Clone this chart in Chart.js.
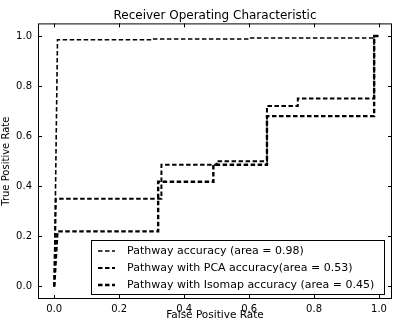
<!DOCTYPE html>
<html>
<head>
<meta charset="utf-8">
<script src="https://cdn.jsdelivr.net/npm/chart.js@4.4.1/dist/chart.umd.min.js"></script>
<style>
  html, body { margin: 0; padding: 0; background: #fff; }
  #wrap { width: 394px; height: 322px; }
</style>
</head>
<body>
<div id="wrap"><canvas id="rocChart" width="394" height="322"></canvas></div>
<script>
// ROC curves (false positive rate, true positive rate)
const pathFpr = [0, 0.01, 0.3, 0.3, 0.6, 0.6, 0.985, 0.985, 1];
const pathTpr = [0, 0.985, 0.985, 0.988, 0.988, 0.992, 0.992, 1, 1];

const pcaFpr = [0, 0.005, 0.33, 0.33, 0.5, 0.5, 0.655, 0.655, 0.75, 0.75, 0.985, 0.985, 1];
const pcaTpr = [0, 0.35, 0.35, 0.486, 0.486, 0.5, 0.5, 0.72, 0.72, 0.75, 0.75, 1, 1];

const isoFpr = [0, 0.01, 0.32, 0.32, 0.49, 0.49, 0.655, 0.655, 0.985, 0.985, 1];
const isoTpr = [0, 0.22, 0.22, 0.418, 0.418, 0.486, 0.486, 0.68, 0.68, 1, 1];

const seriesLabels = [
    'Pathway accuracy (area = 0.98)',
    'Pathway with PCA accuracy(area = 0.53)',
    'Pathway with Isomap accuracy (area = 0.45)'
];
const tickValues = [0, 0.2, 0.4, 0.6, 0.8, 1.0];

function pts(xs, ys) {
    return xs.map(function (x, i) { return { x: x, y: ys[i] }; });
}

const FONT = 'DejaVu Sans';

// frame, inward ticks and the legend box inside the plot, as matplotlib does
const mplDecor = {
    id: 'mplDecor',
    afterDraw(chart) {
        const ctx = chart.ctx;
        const a = chart.chartArea;
        const xs = chart.scales.x, ys = chart.scales.y;
        ctx.save();
        ctx.strokeStyle = '#000';
        ctx.lineWidth = 1;
        ctx.strokeRect(a.left + 0.5, a.top + 0.5, a.right - a.left - 1, a.bottom - a.top - 1);
        ctx.beginPath();
        tickValues.forEach(function (v) {
            const px = Math.round(xs.getPixelForValue(v)) + 0.5;
            ctx.moveTo(px, a.bottom); ctx.lineTo(px, a.bottom - 4);
            ctx.moveTo(px, a.top); ctx.lineTo(px, a.top + 4);
            const py = Math.round(ys.getPixelForValue(v)) + 0.5;
            ctx.moveTo(a.left, py); ctx.lineTo(a.left + 4, py);
            ctx.moveTo(a.right, py); ctx.lineTo(a.right - 4, py);
        });
        ctx.stroke();

        // legend
        const bw = 293, bh = 54;
        const bx = a.right - 8 - bw, by = a.bottom - 5 - bh;
        ctx.fillStyle = '#fff';
        ctx.fillRect(bx, by, bw, bh);
        ctx.lineWidth = 1;
        ctx.strokeRect(bx + 0.5, by + 0.5, bw, bh);
        ctx.font = '11px "' + FONT + '"';
        ctx.textBaseline = 'middle';
        chart.data.datasets.forEach(function (ds, i) {
            const ry = by + 11 + i * 17;
            ctx.beginPath();
            ctx.setLineDash(ds.borderDash);
            ctx.lineWidth = ds.borderWidth;
            ctx.moveTo(bx + 7, ry);
            ctx.lineTo(bx + 24, ry);
            ctx.stroke();
            ctx.setLineDash([]);
            ctx.fillStyle = '#000';
            ctx.fillText(ds.label, bx + 36, ry);
        });
        ctx.restore();
    }
};

const ctx1 = document.getElementById('rocChart').getContext('2d');
const rocChart = new Chart(ctx1, {
    type: 'scatter',
    data: {
        datasets: [{
            label: seriesLabels[0],
            data: pts(pathFpr, pathTpr),
            showLine: true,
            borderColor: '#000',
            borderWidth: 1.6,
            borderDash: [4.5, 2.5],
            pointRadius: 0
        }, {
            label: seriesLabels[1],
            data: pts(pcaFpr, pcaTpr),
            showLine: true,
            borderColor: '#000',
            borderWidth: 2,
            borderDash: [4.5, 2.5],
            pointRadius: 0
        }, {
            label: seriesLabels[2],
            data: pts(isoFpr, isoTpr),
            showLine: true,
            borderColor: '#000',
            borderWidth: 2.4,
            borderDash: [4.5, 2.5],
            pointRadius: 0
        }]
    },
    options: {
        responsive: false,
        animation: false,
        devicePixelRatio: 1,
        layout: { padding: { left: 0, right: 2, top: 0, bottom: 0 } },
        plugins: {
            legend: { display: false },
            tooltip: { enabled: false },
            title: {
                display: true,
                text: 'Receiver Operating Characteristic',
                color: '#000',
                fullSize: false,
                font: { family: FONT, size: 12, weight: 'normal' },
                padding: { top: 9, bottom: 0 }
            }
        },
        scales: {
            x: {
                type: 'linear',
                min: -0.05,
                max: 1.04,
                afterBuildTicks: function (s) { s.ticks = tickValues.map(function (v) { return { value: v }; }); },
                afterFit: function (s) { s.height = 23; },
                grid: { display: false, drawTicks: false },
                border: { display: false },
                ticks: {
                    color: '#000',
                    padding: 4,
                    maxRotation: 0,
                    font: { family: FONT, size: 10 },
                    callback: function (v) { return v.toFixed(1); }
                },
                title: {
                    display: true,
                    text: 'False Positive Rate',
                    color: '#000',
                    padding: { top: 0, bottom: 0 },
                    font: { family: FONT, size: 10.5 }
                }
            },
            y: {
                type: 'linear',
                min: -0.05,
                max: 1.05,
                afterBuildTicks: function (s) { s.ticks = tickValues.map(function (v) { return { value: v }; }); },
                afterFit: function (s) { s.width = 38; },
                grid: { display: false, drawTicks: false },
                border: { display: false },
                ticks: {
                    color: '#000',
                    padding: 6,
                    font: { family: FONT, size: 10 },
                    callback: function (v) { return v.toFixed(1); }
                },
                title: {
                    display: true,
                    text: 'True Positive Rate',
                    color: '#000',
                    padding: { top: 0, bottom: 1 },
                    font: { family: FONT, size: 10 }
                }
            }
        }
    },
    plugins: [mplDecor]
});
</script>
</body>
</html>
